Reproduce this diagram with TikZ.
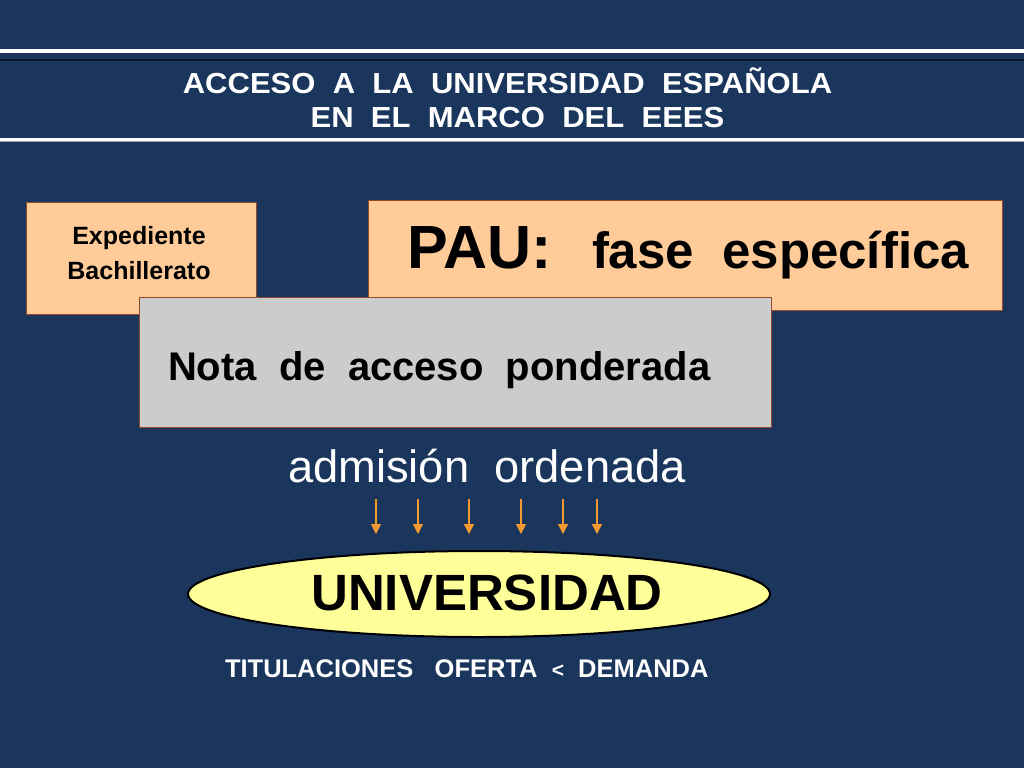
\documentclass[tikz,border=0pt]{standalone}
\usepackage{fontspec}
\setmainfont{Liberation Sans}
\usetikzlibrary{arrows.meta,shapes.geometric}
\definecolor{navy}{RGB}{27,54,93}
\definecolor{peach}{RGB}{255,204,153}
\definecolor{boxgrey}{RGB}{204,204,204}
\definecolor{paleyellow}{RGB}{255,255,153}
\definecolor{boxedge}{RGB}{150,75,40}
\definecolor{arroworange}{RGB}{243,154,46}
\definecolor{darkline}{RGB}{10,22,40}
\tikzset{
  txt/.style={inner sep=0pt, outer sep=0pt},
  whitetxt/.style={txt, text=white},
  blacktxt/.style={txt, text=black},
  peachbox/.style={draw=boxedge, line width=0.8pt, fill=peach, anchor=north west, inner sep=0pt},
  greybox/.style={draw=boxedge, line width=0.8pt, fill=boxgrey, anchor=north west, inner sep=0pt},
  uniell/.style={ellipse, draw=black, line width=2pt, fill=paleyellow, inner sep=0pt},
  downarrow/.style={draw=arroworange, line width=1.3pt, -{Triangle[width=10pt,length=10pt]}}
}
\newcommand{\fsz}[1]{\fontsize{#1}{#1}\selectfont}
\begin{document}
\begin{tikzpicture}[x=1pt,y=-1pt]
\fill[navy] (0,0) rectangle (1024,768);
\useasboundingbox (0,0) rectangle (1024,768);
% title band lines
\fill[white] (0,49) rectangle (1024,53);
\fill[darkline] (0,59) rectangle (1024,61);
\fill[white] (0,137.5) rectangle (1024,141);
\fill[gray!70] (0,141) rectangle (1024,142);
% title
\node[whitetxt, anchor=base, font=\bfseries\fsz{29}] (title1) at (507.5,93)
  {\scalebox{1.07}[1]{ACCESO~~A~~LA~~UNIVERSIDAD~~ESPAÑOLA}};
\node[whitetxt, anchor=base, font=\bfseries\fsz{29}] (title2) at (517.5,127)
  {\scalebox{1.07}[1]{EN~~EL~~MARCO~~DEL~~EEES}};
% boxes
\node[peachbox, minimum width=230pt, minimum height=112pt] (expbox) at (26,202) {};
\node[peachbox, minimum width=634pt, minimum height=110pt] (paubox) at (368,200) {};
\node[blacktxt, anchor=base, font=\bfseries\fsz{25}] (exp1) at (139,244) {Expediente};
\node[blacktxt, anchor=base, font=\bfseries\fsz{25}] (exp2) at (139,279) {Bachillerato};
\node[blacktxt, anchor=base west, font=\bfseries\fsz{61}] (pau) at (407,268) {PAU:};
\node[blacktxt, anchor=base west, font=\bfseries\fsz{51}] (fase) at (592,268) {fase~~específica};
\node[greybox, minimum width=632pt, minimum height=130pt] (notabox) at (139,297) {};
\node[blacktxt, anchor=base west, font=\bfseries\fsz{40}] (nota) at (168,380) {Nota~~de~~acceso~~ponderada};
% admision
\node[whitetxt, anchor=base west, font=\fsz{45.3}] (admision) at (288,482) {admisión~~ordenada};
% arrows
\foreach \i/\x in {1/376,2/418,3/469,4/521,5/563,6/597}{
  \coordinate (a\i) at (\x,499);
  \coordinate (b\i) at (\x,534);
  \draw[downarrow] (a\i) -- (b\i);
}
% university
\node[uniell, minimum width=582pt, minimum height=86pt] (uni) at (479,594) {};
\node[blacktxt, anchor=base, font=\bfseries\fsz{51}] (unitxt) at (487,610) {UNIVERSIDAD};
\node[whitetxt, anchor=base west, font=\bfseries\fsz{25.5}] (tit) at (225,677)
  {TITULACIONES~~~OFERTA~~{\fsz{21}<}~~DEMANDA};
\end{tikzpicture}
\end{document}
